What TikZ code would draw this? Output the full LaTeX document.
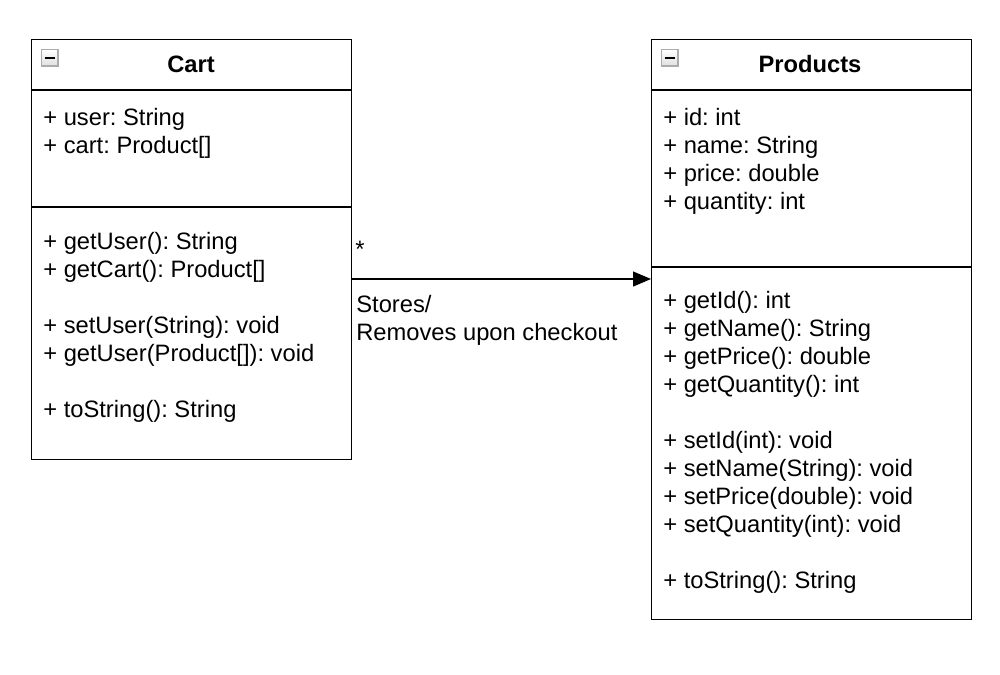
\documentclass[tikz,border=0pt]{standalone}
\usepackage{fontspec}
\setmainfont{Liberation Sans}
\frenchspacing
\usetikzlibrary{arrows.meta}
\tikzset{
  classbox/.style={draw, line width=0.75pt, inner sep=0pt, anchor=north west},
  member/.style={anchor=base west, inner sep=0pt, font=\fontsize{13.5}{16}\selectfont},
  title/.style={anchor=base, inner sep=0pt, font=\fontsize{13.5}{16}\selectfont\bfseries},
  minusicon/.style={draw=gray!65, line width=1.1pt, top color=white, bottom color=gray!25,
    minimum size=0.33cm, inner sep=0pt, anchor=north west}
}
\begin{document}
\begin{tikzpicture}[x=0.02cm,y=-0.02cm]
\useasboundingbox (0,0) rectangle (1000,674);

% class boxes
\node[classbox, minimum width=6.4cm, minimum height=8.4cm] (cart) at (31,39) {};
\node[classbox, minimum width=6.4cm, minimum height=11.6cm] (prod) at (651,39) {};
\draw[line width=0.75pt] (31,90) -- (351,90);
\draw[line width=0.75pt] (31,207) -- (351,207);
\draw[line width=0.75pt] (651,90) -- (971,90);
\draw[line width=0.75pt] (651,267) -- (971,267);

% collapse icons
\foreach \x/\n in {40.5/iconA,660.5/iconB}
{
  \node[minusicon] (\n) at (\x,48.5) {};
  \draw[line width=1.2pt] ([xshift=-0.1cm]\n.center) -- ([xshift=0.1cm]\n.center);
}

\node[title] (carttitle) at (191,72) {Cart};
\node[title] (prodtitle) at (810,72) {Products};

% Cart members
\node[member] (cu) at (43,125) {+ user: String};
\node[member] (cc) at (43,153) {+ cart: Product[]};
\node[member] (m1) at (43,249) {+ getUser(): String};
\node[member] (m2) at (43,277) {+ getCart(): Product[]};
\node[member] (m3) at (43,333) {+ setUser(String): void};
\node[member] (m4) at (43,361) {+ getUser(Product[]): void};
\node[member] (m5) at (43,417) {+ toString(): String};

% Products members
\node[member] (pa1) at (663,125) {+ id: int};
\node[member] (pa2) at (663,153) {+ name: String};
\node[member] (pa3) at (663,181) {+ price: double};
\node[member] (pa4) at (663,209) {+ quantity: int};
\node[member] (pm1) at (663,308) {+ getId(): int};
\node[member] (pm2) at (663,336) {+ getName(): String};
\node[member] (pm3) at (663,364) {+ getPrice(): double};
\node[member] (pm4) at (663,392) {+ getQuantity(): int};
\node[member] (pm5) at (663,448) {+ setId(int): void};
\node[member] (pm6) at (663,476) {+ setName(String): void};
\node[member] (pm7) at (663,504) {+ setPrice(double): void};
\node[member] (pm8) at (663,532) {+ setQuantity(int): void};
\node[member] (pm9) at (663,588) {+ toString(): String};

% association
\coordinate (from) at (351,279);
\draw[line width=0.75pt, -{Triangle[length=0.36cm,width=0.3cm]}] (from) -- (from -| prod.west);
\node[member] (mult) at (355,257) {*};
\node[member] (lab1) at (356,312) {Stores/};
\node[member] (lab2) at (356,340) {Removes upon checkout};
\end{tikzpicture}
\end{document}
